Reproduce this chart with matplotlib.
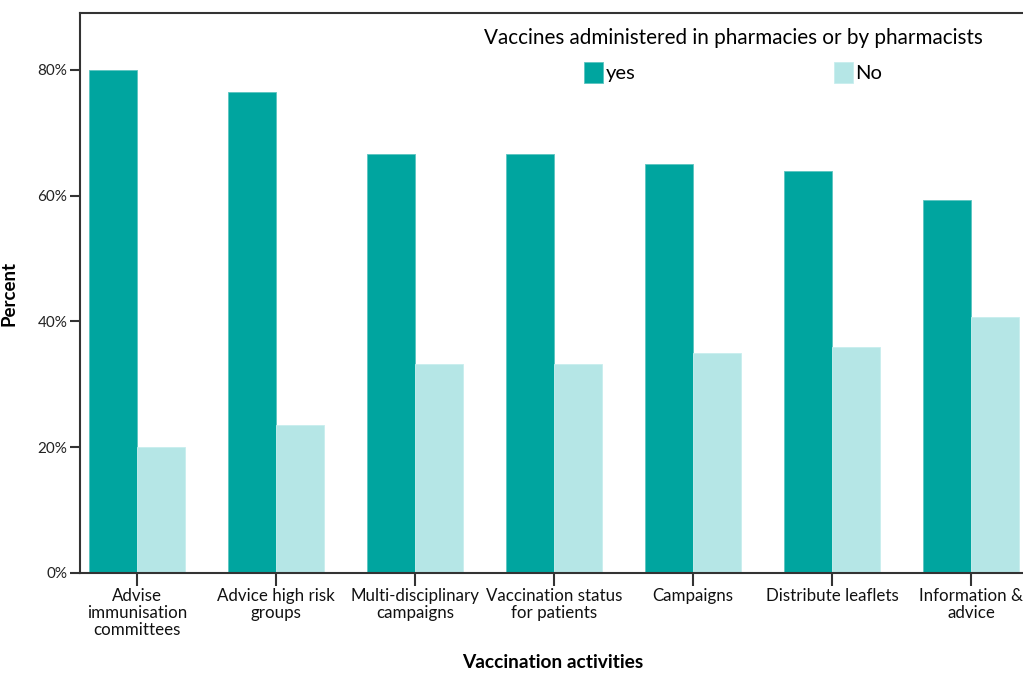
import matplotlib
matplotlib.use("Agg")
import matplotlib.pyplot as plt
import numpy as np

categories = ["Advise\nimmunisation\ncommittees", "Advice high risk\ngroups",
              "Multi-disciplinary\ncampaigns", "Vaccination status\nfor patients",
              "Campaigns", "Distribute leaflets", "Information &\nadvice"]
yes_vals = [80.0, 76.5, 66.7, 66.7, 65.0, 64.0, 59.3]
no_vals = [20.0, 23.5, 33.3, 33.3, 35.0, 36.0, 40.7]
yticks = [0, 20, 40, 60, 80]
ytick_labels = ["0%", "20%", "40%", "60%", "80%"]

plt.rcParams['font.family'] = ['Lato', 'DejaVu Sans']

W, H = 1023, 673
fig = plt.figure(figsize=(W/100, H/100), dpi=100)
ax = fig.add_axes([80/W, 1-573/H, (1028-80)/W, (573-13)/H])

x = np.arange(len(categories))
bw = 0.345
c_yes = '#00a59f'
c_no = '#b5e6e6'
ax.bar(x - bw/2, yes_vals, bw, color=c_yes, edgecolor='#5cc4c0', linewidth=0.6, label='yes')
ax.bar(x + bw/2, no_vals, bw, color=c_no, edgecolor='#c8eeee', linewidth=0.6, label='No')

ax.set_xlim(-0.41, len(categories) - 1 + 0.41)
ax.set_ylim(0, 89.06)
ax.set_yticks(yticks)
ax.set_yticklabels(ytick_labels, fontsize=11, color='#222222')
ax.set_xticks(x)
ax.set_xticklabels(categories, fontsize=12.2, color='#111111', linespacing=1.08)

for s in ['left', 'bottom', 'top']:
    ax.spines[s].set_color('#333333')
    ax.spines[s].set_linewidth(1.5)
ax.spines['right'].set_visible(False)
ax.tick_params(axis='y', length=7, width=1.5, color='#333333', pad=2)
ax.tick_params(axis='x', length=9, width=1.5, color='#333333', pad=2)

ax.set_ylabel('Percent', fontsize=13.5, fontweight='bold')
ax.yaxis.set_label_coords(-(80-18)/(1028-80), 0.5)
fig.text(553/W, 1-663/H, 'Vaccination activities', fontsize=13.8, fontweight='bold',
         ha='center', va='center')

leg = ax.legend(title='Vaccines administered in pharmacies or by pharmacists',
                ncol=2, frameon=False, fontsize=14.5, title_fontsize=14.9,
                handlelength=0.95, handleheight=1.2, handletextpad=0.1,
                columnspacing=9.85, loc='upper center', borderpad=0.2,
                labelspacing=0.2,
                bbox_to_anchor=((733-80)/(1028-80), 1 - 1/560))
leg._legend_box.sep = 10
fig.savefig('out.png', dpi=100)
